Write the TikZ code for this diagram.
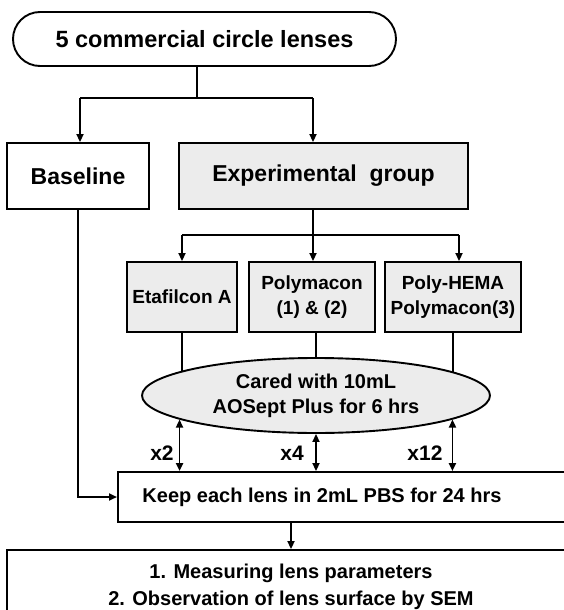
\documentclass[tikz,border=0pt]{standalone}
\usepackage{fontspec}
\setmainfont{Liberation Sans}
\usepackage{tikz}
\usetikzlibrary{shapes.geometric, arrows.meta, positioning, calc, backgrounds}
\definecolor{boxgray}{RGB}{236, 236, 236}
\tikzstyle{startbox} = [rectangle, rounded corners=27pt, minimum width=383pt, minimum height=54pt, text centered, draw, line width=1.9pt, font=\bfseries\fontsize{23.5}{28}\selectfont]
\tikzstyle{groupbox} = [rectangle, minimum height=66pt, text centered, draw, line width=1.9pt, font=\bfseries\fontsize{23}{28}\selectfont]
\tikzstyle{lensbox} = [rectangle, minimum height=70pt, align=center, draw, line width=1.9pt, fill=boxgray, font=\bfseries\fontsize{19}{24.5}\selectfont]
\tikzstyle{careell} = [ellipse, minimum width=348pt, minimum height=75pt, align=center, draw, line width=1.9pt, fill=boxgray, font=\bfseries\fontsize{20}{25}\selectfont]
\tikzstyle{stepbox} = [rectangle, draw, line width=1.9pt, inner sep=0pt]
\tikzstyle{steptext} = [font=\bfseries\fontsize{20}{27}\selectfont, align=center]
\tikzstyle{times} = [font=\bfseries\fontsize{21}{25}\selectfont]
\tikzstyle{line} = [line width=1.9pt]
\tikzstyle{arrow} = [line width=1.9pt,-{Triangle[length=8pt,width=7pt]}]
\tikzstyle{dblarrow} = [line width=1.9pt,{Triangle[length=8pt,width=7pt]}-{Triangle[length=8pt,width=7pt]}]

\begin{document}
\begin{tikzpicture}[x=1pt, y=-1pt]
    \useasboundingbox (0,0) rectangle (564,610);
    \clip (0,0) rectangle (564,610);

    % Lenses
    \node[startbox] (lenses) at (204.5, 39) {5 commercial circle lenses};

    % Groups
    \node[groupbox, minimum width=142pt] (base) at (78, 176) {Baseline};
    \node[groupbox, minimum width=289pt, fill=boxgray] (exp) at (323.5, 176) {Experimental\ \ group};

    % Lens materials
    \node[lensbox, minimum width=110pt] (etaf) at (182, 297) {Etafilcon A};
    \node[lensbox, minimum width=126pt] (poly) at (312, 297) {Polymacon\\(1) \& (2)};
    \node[lensbox, minimum width=136pt] (hema) at (453, 297) {Poly-HEMA\\Polymacon(3)};

    % Care solution
    \node[careell] (care) at (316, 395.5) {Cared with 10mL\\AOSept Plus for 6 hrs};

    % PBS soaking
    \node[stepbox, minimum width=480pt, minimum height=50pt, anchor=west] (keep) at (117, 497) {};
    \node[steptext] (keeptxt) at (322, 497) {Keep each lens in 2mL PBS for 24 hrs};

    % Results
    \node[stepbox, minimum width=568pt, minimum height=73pt, steptext] (res) at (291, 586.5) {1. Measuring lens parameters\\2. Observation of lens surface by SEM};

    % Fork points
    \coordinate (split1) at (197, 98);
    \coordinate (fork1l) at (80, 98);
    \coordinate (fork1r) at (313, 98);
    \coordinate (split2) at (313, 235);
    \coordinate (fork2l) at (182, 235);
    \coordinate (fork2r) at (459, 235);

    % Arrows
    \draw[line] (lenses.south -| split1) -- (split1);
    \draw[line] (fork1l) -- (fork1r);
    \draw[arrow] (fork1l) -- (fork1l |- base.north);
    \draw[arrow] (fork1r) -- (fork1r |- exp.north);
    \draw[line] (exp.south -| split2) -- (split2);
    \draw[line] (fork2l) -- (fork2r);
    \draw[arrow] (fork2l) -- (fork2l |- etaf.north);
    \draw[arrow] (split2) -- (split2 |- poly.north);
    \draw[arrow] (fork2r) -- (fork2r |- hema.north);
    \begin{scope}[on background layer]
        \draw[line] (etaf.south) -- (etaf.south |- care.center);
        \draw[line] (poly.south -| care.north) -- (care.center);
        \draw[line] (hema.south) -- (hema.south |- care.center);
    \end{scope}
    \draw[dblarrow] (care.190.2) -- (care.190.2 |- keep.north);
    \draw[dblarrow] (care.south) -- (care.south |- keep.north);
    \draw[dblarrow] (care.350.4) -- (care.350.4 |- keep.north);
    \draw[arrow] (base.south) |- (keep.west);
    \draw[arrow] (keep.south -| res.north) -- (res.north);

    % Repeats
    \node[times] (t2) at (162, 453) {x2};
    \node[times] (t4) at (292, 453) {x4};
    \node[times] (t12) at (425, 453) {x12};
\end{tikzpicture}
\end{document}
